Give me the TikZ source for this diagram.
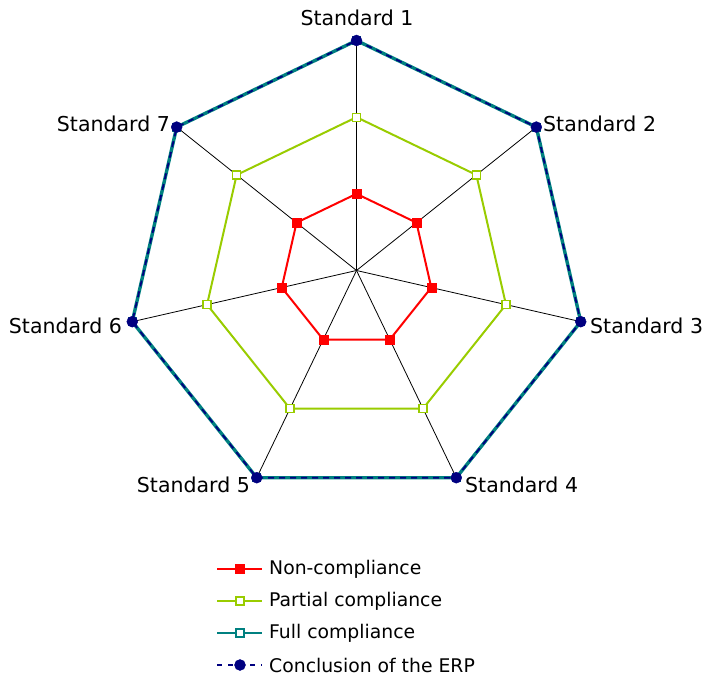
\documentclass[tikz,border=0pt]{standalone}
\usepackage{fontspec}
\setmainfont{DejaVu Sans}
\definecolor{ncred}{RGB}{255,0,0}
\definecolor{pcgreen}{RGB}{153,204,0}
\definecolor{fcteal}{RGB}{0,128,128}
\definecolor{erpnavy}{RGB}{0,0,128}
\tikzset{
  spoke/.style={draw=black,line width=0.8pt},
  ncline/.style={draw=ncred,line width=2pt,line join=round},
  pcline/.style={draw=pcgreen,line width=2pt,line join=round},
  fcline/.style={draw=fcteal,line width=3.4pt,line join=round},
  erpline/.style={draw=erpnavy,line width=1.8pt,dash pattern=on 6pt off 5pt},
  ncmark/.style={rectangle,fill=ncred,draw=ncred,minimum size=9pt,inner sep=0pt},
  pcmark/.style={rectangle,fill=white,draw=pcgreen,line width=1.2pt,minimum size=8pt,inner sep=0pt},
  fcmark/.style={rectangle,fill=white,draw=fcteal,line width=1.2pt,minimum size=8pt,inner sep=0pt},
  erpmark/.style={circle,fill=erpnavy,draw=erpnavy,minimum size=11pt,inner sep=0pt},
  axlabel/.style={inner sep=0pt,font=\fontsize{20.5}{24}\selectfont},
  leglabel/.style={inner sep=0pt,anchor=west,font=\fontsize{18.8}{22}\selectfont}
}
\begin{document}
\begin{tikzpicture}[x=1pt,y=-1pt]
\useasboundingbox (0,0) rectangle (709,676);
\coordinate (O) at (356.5,270.5);
\foreach \i in {1,...,7}{
  \coordinate (F\i) at ({356.5+230*sin((\i-1)*360/7)},{270.5-230*cos((\i-1)*360/7)});
  \coordinate (P\i) at ({356.5+153.3*sin((\i-1)*360/7)},{270.5-153.3*cos((\i-1)*360/7)});
  \coordinate (N\i) at ({356.5+76.7*sin((\i-1)*360/7)},{270.5-76.7*cos((\i-1)*360/7)});
}
% spokes
\foreach \i in {1,...,7}{\draw[spoke] (O) -- (F\i);}
% series
\draw[ncline] (N1) -- (N2) -- (N3) -- (N4) -- (N5) -- (N6) -- (N7) -- cycle;
\foreach \i in {1,...,7}{\node[ncmark] (nm\i) at (N\i) {};}
\draw[pcline] (P1) -- (P2) -- (P3) -- (P4) -- (P5) -- (P6) -- (P7) -- cycle;
\foreach \i in {1,...,7}{\node[pcmark] (pm\i) at (P\i) {};}
\draw[fcline] (F1) -- (F2) -- (F3) -- (F4) -- (F5) -- (F6) -- (F7) -- cycle;
\foreach \i in {1,...,7}{\node[fcmark] (fm\i) at (F\i) {};}
\draw[erpline] (F1) -- (F2) -- (F3) -- (F4) -- (F5) -- (F6) -- (F7) -- cycle;
\foreach \i in {1,...,7}{\node[erpmark] (em\i) at (F\i) {};}
% axis labels
\node[axlabel] (lab1) at (357,17.5) {Standard 1};
\node[axlabel,anchor=west] (lab2) at (543,124) {Standard 2};
\node[axlabel,anchor=west] (lab3) at (590,326) {Standard 3};
\node[axlabel,anchor=west] (lab4) at (465,485) {Standard 4};
\node[axlabel,anchor=east] (lab5) at (250,485) {Standard 5};
\node[axlabel,anchor=east] (lab6) at (122,326) {Standard 6};
\node[axlabel,anchor=east] (lab7) at (170,124) {Standard 7};
% legend
\coordinate (L1a) at (217,569); \coordinate (L1b) at (262,569);
\coordinate (L2a) at (217,601); \coordinate (L2b) at (262,601);
\coordinate (L3a) at (217,633); \coordinate (L3b) at (262,633);
\coordinate (L4a) at (217,665); \coordinate (L4b) at (262,665);
\draw[ncline] (L1a) -- (L1b);
\node[ncmark] (lm1) at (240,569) {};
\node[leglabel] (lt1) at (269,569) {Non-compliance};
\draw[pcline] (L2a) -- (L2b);
\node[pcmark] (lm2) at (240,601) {};
\node[leglabel] (lt2) at (269,601) {Partial compliance};
\draw[fcline,line width=2pt] (L3a) -- (L3b);
\node[fcmark] (lm3) at (240,633) {};
\node[leglabel] (lt3) at (269,633) {Full compliance};
\draw[erpline,line width=2.5pt,dash pattern=on 5pt off 6pt] (L4a) -- (L4b);
\node[erpmark] (lm4) at (240,665) {};
\node[leglabel] (lt4) at (269,665) {Conclusion of the ERP};
\end{tikzpicture}
\end{document}
